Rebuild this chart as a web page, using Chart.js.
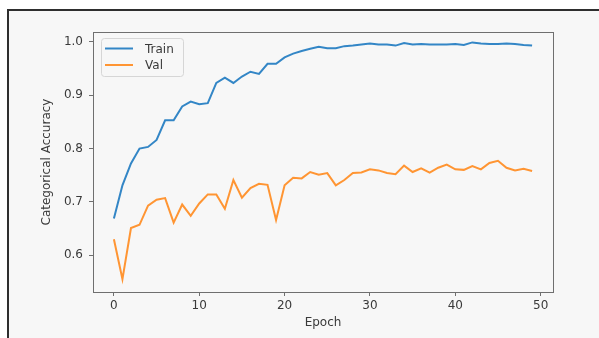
<!DOCTYPE html>
<html>
<head>
<meta charset="utf-8">
<script src="https://cdn.jsdelivr.net/npm/chart.js@4/dist/chart.umd.min.js"></script>
<style>
  html, body { margin: 0; padding: 0; background: #ffffff; }
  #wrap { width: 599px; height: 338px; position: relative; }
</style>
</head>
<body>
<div id="wrap"><canvas id="c" width="599" height="338"></canvas></div>
<script>
// Training history: categorical accuracy per epoch
const epochs = [0, 1, 2, 3, 4, 5, 6, 7, 8, 9,
  10, 11, 12, 13, 14, 15, 16, 17, 18, 19,
  20, 21, 22, 23, 24, 25, 26, 27, 28, 29,
  30, 31, 32, 33, 34, 35, 36, 37, 38, 39,
  40, 41, 42, 43, 44, 45, 46, 47, 48, 49];

const trainAcc = [0.669, 0.731, 0.772, 0.800, 0.803, 0.816, 0.853, 0.853, 0.879, 0.888,
  0.883, 0.885, 0.923, 0.933, 0.923, 0.935, 0.944, 0.940, 0.959, 0.959,
  0.971, 0.978, 0.983, 0.987, 0.991, 0.988, 0.988, 0.992, 0.993, 0.995,
  0.997, 0.995, 0.995, 0.993, 0.998, 0.995, 0.996, 0.995, 0.995, 0.995,
  0.996, 0.994, 0.999, 0.997, 0.996, 0.996, 0.997, 0.996, 0.994, 0.993];

const valAcc = [0.630, 0.555, 0.651, 0.657, 0.693, 0.704, 0.707, 0.661, 0.695, 0.674,
  0.697, 0.714, 0.714, 0.687, 0.741, 0.708, 0.726, 0.734, 0.732, 0.666,
  0.731, 0.745, 0.744, 0.756, 0.751, 0.754, 0.731, 0.741, 0.754, 0.755,
  0.761, 0.759, 0.754, 0.752, 0.768, 0.756, 0.763, 0.755, 0.764, 0.770,
  0.761, 0.760, 0.767, 0.761, 0.773, 0.777, 0.764, 0.759, 0.762, 0.758];

const xTickValues = [0, 10, 20, 30, 40, 50];
const yTickValues = [0.6, 0.7, 0.8, 0.9, 1.0];
const seriesLabels = ['Train', 'Val'];

const FONT = 'DejaVu Sans';
const TEXT = '#3a3a3a';
const SPINE = '#6f6f6f';

// Page background, frame rules and plot outline
const backdrop = {
  id: 'backdrop',
  beforeDraw(chart) {
    const ctx = chart.ctx;
    ctx.save();
    ctx.fillStyle = '#ffffff';
    ctx.fillRect(0, 0, chart.width, chart.height);
    ctx.fillStyle = '#f7f7f7';
    ctx.fillRect(8, 10, chart.width - 8, chart.height - 10);
    ctx.fillStyle = '#2e2e2e';
    ctx.fillRect(7, 9, chart.width - 7, 2);
    ctx.fillRect(7, 9, 2, chart.height - 9);
    ctx.restore();
  },
  afterDatasetsDraw(chart) {
    const {left, right, top, bottom} = chart.chartArea;
    const ctx = chart.ctx;
    ctx.save();
    ctx.strokeStyle = SPINE;
    ctx.lineWidth = 1;
    ctx.strokeRect(Math.round(left) + 0.5, Math.round(top) + 0.5,
      Math.round(right - left), Math.round(bottom - top));
    ctx.restore();
  }
};

// Legend box in the upper-left corner of the plot
const cornerLegend = {
  id: 'cornerLegend',
  afterDraw(chart) {
    const ctx = chart.ctx;
    const {left, top} = chart.chartArea;
    const x0 = left + 8, y0 = top + 6, w = 82, h = 38;
    ctx.save();
    ctx.beginPath();
    ctx.roundRect(x0 + 0.5, y0 + 0.5, w, h, 3);
    ctx.fillStyle = 'rgba(247,247,247,0.85)';
    ctx.fill();
    ctx.strokeStyle = '#d6d6d6';
    ctx.lineWidth = 1;
    ctx.stroke();
    ctx.font = '12px "' + FONT + '"';
    ctx.textBaseline = 'middle';
    chart.data.datasets.forEach((ds, i) => {
      const y = y0 + 10.5 + i * 16.5;
      ctx.strokeStyle = ds.borderColor;
      ctx.lineWidth = 2;
      ctx.beginPath();
      ctx.moveTo(x0 + 4, y);
      ctx.lineTo(x0 + 32, y);
      ctx.stroke();
      ctx.fillStyle = TEXT;
      ctx.fillText(ds.label, x0 + 44, y + 1);
    });
    ctx.restore();
  }
};

new Chart(document.getElementById('c'), {
  type: 'line',
  data: {
    datasets: [
      {
        label: seriesLabels[0],
        data: epochs.map((e, i) => ({x: e, y: trainAcc[i]})),
        borderColor: '#3386c6',
        borderWidth: 2,
        pointRadius: 0,
        tension: 0,
        fill: false
      },
      {
        label: seriesLabels[1],
        data: epochs.map((e, i) => ({x: e, y: valAcc[i]})),
        borderColor: '#ff9533',
        borderWidth: 2,
        pointRadius: 0,
        tension: 0,
        fill: false
      }
    ]
  },
  options: {
    responsive: false,
    animation: false,
    devicePixelRatio: 1,
    layout: { padding: { left: 0, top: 32, right: 46, bottom: 0 } },
    plugins: {
      legend: { display: false },
      tooltip: { enabled: false }
    },
    scales: {
      x: {
        type: 'linear',
        min: -2.45,
        max: 51.45,
        afterFit(scale) { scale.height = 46; },
        afterBuildTicks(scale) { scale.ticks = xTickValues.map(v => ({value: v})); },
        grid: {
          drawOnChartArea: false,
          drawTicks: true,
          tickLength: 4,
          color: SPINE
        },
        border: { display: false },
        ticks: {
          color: TEXT,
          font: { family: FONT, size: 12 },
          padding: 3,
          maxRotation: 0,
          callback: v => String(v)
        },
        title: {
          display: true,
          text: 'Epoch',
          color: TEXT,
          font: { family: FONT, size: 12 },
          padding: { top: 0, bottom: 8 }
        }
      },
      y: {
        type: 'linear',
        min: 0.531,
        max: 1.0185,
        afterFit(scale) { scale.width = 93; },
        afterBuildTicks(scale) { scale.ticks = yTickValues.map(v => ({value: v})); },
        grid: {
          drawOnChartArea: false,
          drawTicks: true,
          tickLength: 4,
          color: SPINE
        },
        border: { display: false },
        ticks: {
          color: TEXT,
          font: { family: FONT, size: 12 },
          padding: 6,
          callback: v => v.toFixed(1)
        },
        title: {
          display: true,
          text: 'Categorical Accuracy',
          color: TEXT,
          font: { family: FONT, size: 12 },
          padding: { top: 40, bottom: 0 }
        }
      }
    }
  },
  plugins: [backdrop, cornerLegend]
});
</script>
</body>
</html>
